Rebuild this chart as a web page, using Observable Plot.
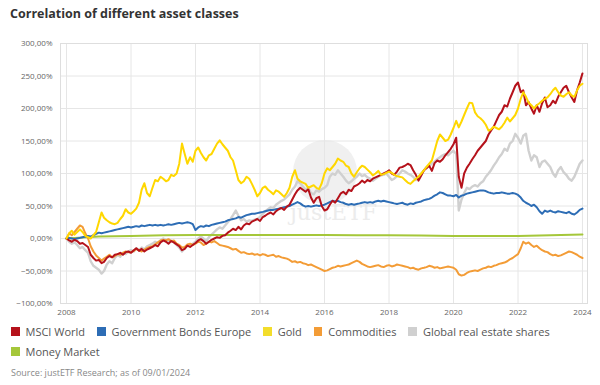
<!DOCTYPE html>
<html><head><meta charset="utf-8">
<script src="https://cdn.jsdelivr.net/npm/d3@7"></script>
<script src="https://cdn.jsdelivr.net/npm/@observablehq/plot@0.6"></script>
<style>
body{margin:0;background:#fff;font-family:"Open Sans",sans-serif;}
#wrap{position:relative;width:600px;height:385px;overflow:hidden}
#title{position:absolute;left:10px;top:5px;font-size:12.5px;font-weight:700;color:#333;white-space:nowrap}
#wm{position:absolute;left:0;top:0;width:600px;height:385px;z-index:0}
#wm .c{position:absolute;left:293px;top:140px;width:64px;height:64px;border-radius:50%;background:#f0f0f0}
#wm .t{position:absolute;left:290px;top:200px;font-size:22px;color:#ececec;font-family:"DejaVu Serif",serif}
#chart{position:absolute;left:0;top:30px;z-index:1}
#legend{position:absolute;left:11px;top:323px;width:565px;display:flex;flex-wrap:wrap;column-gap:12px;row-gap:3px;font-size:11px;color:#555;z-index:1}
.item{display:flex;align-items:center;height:17px;white-space:nowrap}
.sw{width:8.5px;height:8.5px;margin-right:6px}
#source{position:absolute;left:11px;top:366px;font-size:9px;color:#888;white-space:nowrap}
</style></head>
<body>
<div id="wrap">
  <div id="title">Correlation of different asset classes</div>
  <div id="wm"><div class="c"></div><div class="t">justETF</div></div>
  <div id="chart"></div>
  <div id="legend"></div>
  <div id="source">Source: justETF Research; as of 09/01/2024</div>
</div>
<script>
// Monthly values (%), Jan 2008 .. Jan 2024
const msciWorld = [
 0,-3,-5,-2,-4,-8,-7,-10,-13,-25,-30,-34,
 -33,-38,-36,-30,-27,-29,-25,-24,-22,-25,-21,-20,
 -22,-18,-15,-19,-16,-20,-17,-15,-13,-10,-12,-6,
 -3,-5,-8,-4,-6,-9,-12,-18,-16,-11,-13,-10,
 -7,-3,-1,-4,-8,-5,-2,0,2,1,4,5,
 9,12,15,13,18,14,20,23,22,26,28,30,
 27,33,35,38,40,37,42,45,47,44,49,52,
 60,68,74,78,75,72,76,63,55,62,64,50,
 43,45,52,58,55,62,69,72,68,75,73,80,
 82,85,89,86,90,88,92,94,96,98,100,102,
 105,100,98,103,109,110,112,115,113,105,98,89,
 97,105,108,112,104,116,120,118,122,128,133,138,
 145,155,95,78,100,109,115,122,128,135,140,145,
 150,160,166,172,181,190,195,205,203,215,225,235,
 240,225,228,205,210,200,192,205,195,208,217,202,
 205,212,208,218,225,232,235,225,217,210,228,240,
 254];
const govBondsEurope = [
 0,1,0,-1,0,1,2,3,4,3,5,7,
 9,8,9,10,11,12,13,14,15,16,17,18,
 17,18,19,18,20,19,20,21,20,21,20,21,
 20,21,22,21,22,23,24,23,24,25,24,22,
 13,17,19,18,20,19,21,22,23,24,25,26,
 28,29,30,31,33,32,34,36,37,38,38,39,
 40,41,42,43,44,44,45,46,47,48,49,50,
 52,54,56,54,51,49,50,49,50,51,50,51,
 52,54,56,58,57,58,56,55,53,52,53,52,
 53,54,55,56,55,56,55,57,58,57,58,57,
 56,55,54,53,54,55,53,52,54,53,55,56,
 57,59,60,61,63,66,68,71,70,68,66,66,
 65,67,63,66,67,69,70,71,72,73,74,74,
 73,71,70,69,70,70,71,70,69,69,70,69,
 67,63,58,55,53,50,52,48,42,38,43,41,
 43,41,40,42,41,40,39,41,38,37,40,44,
 46];
const gold = [
 0,8,12,6,10,14,10,4,2,0,5,10,
 25,40,32,28,25,23,22,24,30,35,45,40,
 38,42,46,55,75,85,70,65,78,90,88,95,
 92,88,90,98,96,100,115,146,130,115,125,118,
 135,140,132,125,120,128,130,138,146,151,145,140,
 135,125,120,105,90,85,88,95,92,84,75,65,
 70,78,80,75,72,68,74,72,68,64,70,78,
 95,105,92,88,86,84,78,80,82,78,76,85,
 100,108,105,110,115,123,120,118,112,110,100,95,
 102,108,112,110,106,102,97,100,104,98,99,101,
 103,101,98,96,95,94,90,86,84,88,92,95,
 100,105,110,115,120,135,150,160,155,150,152,160,
 170,181,171,180,190,200,209,208,194,188,185,181,
 175,166,168,172,170,168,172,178,186,180,185,190,
 200,215,225,218,209,205,200,205,208,212,215,217,
 222,228,232,225,220,218,222,225,220,218,228,235,
 238];
const commodities = [
 0,8,5,10,15,20,18,8,0,-12,-20,-26,
 -30,-34,-31,-28,-25,-29,-27,-24,-25,-22,-20,-21,
 -21,-19,-16,-18,-20,-17,-15,-13,-12,-9,-6,-3,
 -2,-3,-1,-4,-3,-8,-10,-14,-13,-9,-8,-10,
 -8,-5,-6,-10,-8,-5,-6,-4,-7,-10,-11,-12,
 -13,-15,-17,-16,-19,-22,-21,-23,-24,-23,-25,-24,
 -26,-24,-25,-27,-26,-25,-28,-27,-29,-30,-31,-33,
 -36,-35,-37,-36,-38,-39,-41,-40,-42,-44,-46,-48,
 -50,-49,-47,-45,-44,-42,-43,-42,-41,-40,-38,-36,
 -34,-36,-39,-41,-43,-44,-43,-42,-41,-43,-44,-42,
 -41,-43,-42,-40,-41,-42,-43,-44,-46,-45,-47,-48,
 -46,-45,-44,-42,-43,-45,-44,-46,-45,-44,-43,-44,
 -45,-48,-55,-57,-56,-53,-51,-50,-49,-50,-48,-46,
 -45,-43,-44,-42,-41,-39,-38,-37,-35,-32,-30,-27,
 -24,-15,-5,-8,-6,-10,-13,-11,-15,-18,-20,-21,
 -24,-26,-25,-27,-26,-24,-22,-20,-21,-23,-25,-28,
 -30];
const realEstate = [
 0,-5,-8,-6,-10,-15,-13,-18,-22,-35,-42,-45,
 -48,-54,-50,-40,-35,-38,-30,-25,-28,-22,-24,-20,
 -18,-20,-15,-18,-14,-17,-12,-10,-8,-5,-7,-3,
 0,-2,-5,-3,-6,-10,-14,-20,-15,-10,-12,-8,
 -5,0,3,0,-4,2,6,10,14,17,15,20,
 25,30,36,43,35,28,30,26,28,27,29,30,
 33,38,42,45,48,47,52,55,58,60,64,68,
 75,80,88,85,80,75,78,70,68,74,72,76,
 78,82,95,100,98,105,100,95,89,85,88,92,
 95,100,96,98,94,92,89,92,95,97,98,100,
 95,90,92,96,100,105,103,100,98,95,90,94,
 100,105,110,112,115,118,122,125,128,130,128,132,
 135,130,43,60,70,78,76,80,82,80,85,88,
 95,100,105,112,118,125,130,138,135,146,150,161,
 155,146,158,161,135,120,128,125,110,118,120,115,
 110,100,95,105,110,102,98,92,89,95,105,115,
 120];
// Yearly values (%), 2008 .. 2024
const moneyMarket = [0,3,4,5,5.5,5.5,5.5,5.5,5.5,5,5,4.5,4,4,4,5,6];

const seriesNames = ["MSCI World","Government Bonds Europe","Gold","Commodities","Global real estate shares","Money Market"];
const seriesColors = ["#b5121b","#2d6db5","#f3dd2b","#f39c36","#d0d0d0","#a5c73a"];
const tickYears = [2008,2010,2012,2014,2016,2018,2020,2022,2024];
const yTicks = [-100,-50,0,50,100,150,200,250,300];

const months = d3.utcMonth.range(new Date(Date.UTC(2008,0,1)), new Date(Date.UTC(2024,0,2)));
const years = d3.utcYear.range(new Date(Date.UTC(2008,0,1)), new Date(Date.UTC(2024,0,2)));
const mk = (name, vals, dates) => vals.map((v,i)=>({date:dates[i], value:v, series:name}));
const valuesByName = {
  "MSCI World": mk("MSCI World", msciWorld, months),
  "Government Bonds Europe": mk("Government Bonds Europe", govBondsEurope, months),
  "Gold": mk("Gold", gold, months),
  "Commodities": mk("Commodities", commodities, months),
  "Global real estate shares": mk("Global real estate shares", realEstate, months),
  "Money Market": mk("Money Market", moneyMarket, years)
};
const drawOrder = ["Global real estate shares","Money Market","Commodities","Government Bonds Europe","MSCI World","Gold"];
const tickDates = tickYears.map(y => new Date(Date.UTC(y,0,1)));
const fmtY = d => d3.format(".2f")(d).replace(".", ",") + "%";

const chart = Plot.plot({
  width: 600, height: 295,
  marginLeft: 60, marginRight: 13, marginTop: 13, marginBottom: 22,
  style: {fontFamily: "Open Sans", fontSize: "8px", color: "#666", background: "transparent"},
  x: {type: "utc", domain: [new Date(Date.UTC(2007,9,25)), new Date(Date.UTC(2024,1,27))], ticks: tickDates, tickFormat: "%Y", tickSize: 0, tickPadding: 6, label: null},
  y: {domain: [-100, 300], ticks: yTicks, tickFormat: fmtY, tickSize: 0, tickPadding: 8, label: null},
  color: {domain: seriesNames, range: seriesColors},
  marks: [
    Plot.gridX(tickDates, {stroke: "#e6e6e6", strokeOpacity: 1}),
    Plot.gridY(yTicks, {stroke: "#e6e6e6", strokeOpacity: 1}),
    Plot.frame({stroke: "#dedede"}),
    ...drawOrder.map(n => Plot.line(valuesByName[n], {x: "date", y: "value", stroke: "series", strokeWidth: n === "Global real estate shares" ? 2.4 : 2, strokeLinejoin: "round"}))
  ]
});
document.getElementById("chart").appendChild(chart);

const lg = document.getElementById("legend");
seriesNames.forEach((n, i) => {
  const it = document.createElement("div"); it.className = "item";
  const sw = document.createElement("div"); sw.className = "sw"; sw.style.background = seriesColors[i];
  const tx = document.createElement("span"); tx.textContent = n;
  it.appendChild(sw); it.appendChild(tx); lg.appendChild(it);
});
</script>
</body></html>
